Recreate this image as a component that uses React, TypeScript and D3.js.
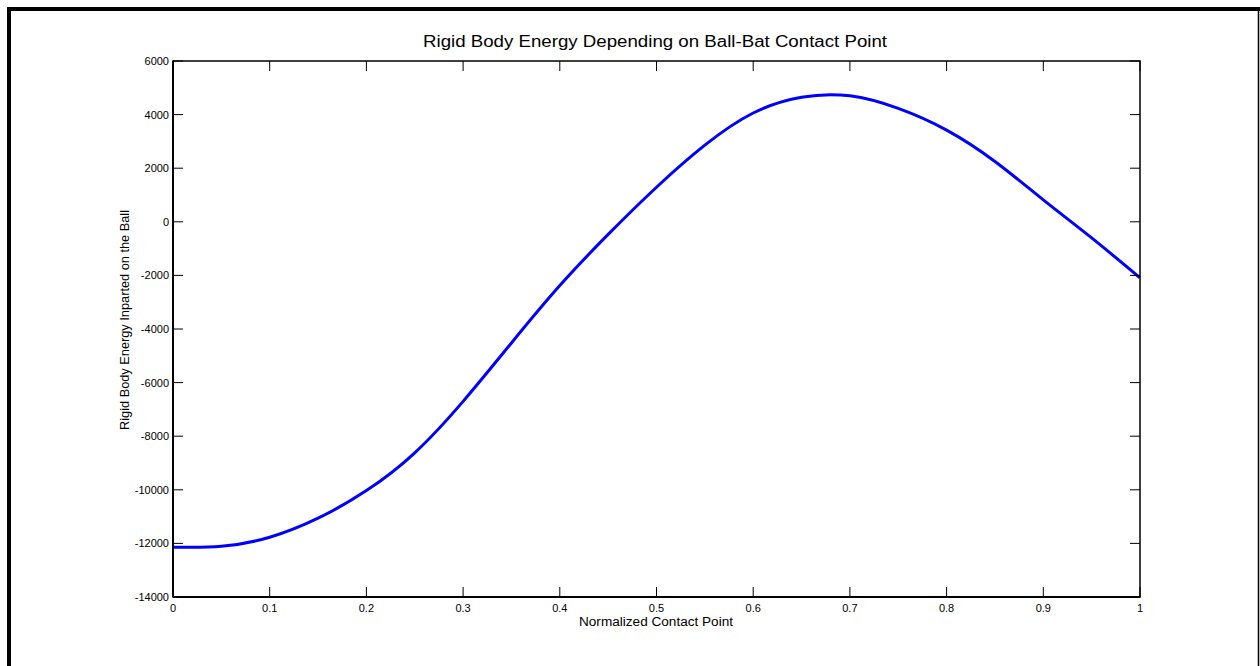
import React from "react";
import * as d3 from "d3";

const contactPoints = [0, 0.05, 0.1, 0.15, 0.2, 0.25, 0.3, 0.35, 0.4, 0.45, 0.5, 0.55, 0.6, 0.65, 0.7, 0.75, 0.8, 0.85, 0.9, 0.95, 1.0];
const energyValues = [-12140, -12110, -11770, -11060, -10030, -8620, -6700, -4520, -2380, -470, 1290, 2860, 4060, 4650, 4700, 4230, 3420, 2250, 820, -600, -2090];
const xTicks = [0, 0.1, 0.2, 0.3, 0.4, 0.5, 0.6, 0.7, 0.8, 0.9, 1];
const yTicks = [-14000, -12000, -10000, -8000, -6000, -4000, -2000, 0, 2000, 4000, 6000];

const W = 1260, H = 666;
const L = 173, R = 1140, T = 61, B = 597;
const FONT = "Arial, 'Liberation Sans', Helvetica, sans-serif";

export default function App() {
  const x = d3.scaleLinear().domain([0, 1]).range([L, R]);
  const y = d3.scaleLinear().domain([-14000, 6000]).range([B, T]);
  const pts = contactPoints.map((c, i) => [c, energyValues[i]] as [number, number]);
  const line = d3.line<[number, number]>().x(d => x(d[0])).y(d => y(d[1])).curve(d3.curveNatural);
  const tl = 10;
  return (
    <svg width={W} height={H} style={{ position: "absolute", left: 0, top: 0, background: "#fff" }} fontFamily={FONT}>
      <rect x={0} y={0} width={W} height={H} fill="#fff" />
      {/* outer frame */}
      <line x1={7} y1={9} x2={W} y2={9} stroke="#000" strokeWidth={4} />
      <line x1={9} y1={7} x2={9} y2={H} stroke="#000" strokeWidth={4} />
      <line x1={1258.5} y1={9} x2={1258.5} y2={H} stroke="#000" strokeWidth={1.5} />
      {/* title */}
      <text x={655} y={47} textAnchor="middle" fontSize={16} textLength={464} lengthAdjust="spacingAndGlyphs" fill="#000">Rigid Body Energy Depending on Ball-Bat Contact Point</text>
      {/* curve */}
      <path d={line(pts) || ""} fill="none" stroke="#0000ff" strokeWidth={3} />
      {/* ticks */}
      {xTicks.map(t => (
        <g key={"x" + t}>
          <line x1={x(t)} x2={x(t)} y1={B} y2={B - tl} stroke="#000" strokeWidth={1} />
          <line x1={x(t)} x2={x(t)} y1={T} y2={T + tl} stroke="#000" strokeWidth={1} />
          <text x={x(t)} y={612} textAnchor="middle" fontSize={11} fill="#000">{String(t)}</text>
        </g>
      ))}
      {yTicks.map(t => (
        <g key={"y" + t}>
          <line x1={L} x2={L + tl} y1={y(t)} y2={y(t)} stroke="#000" strokeWidth={1} />
          <line x1={R} x2={R - tl} y1={y(t)} y2={y(t)} stroke="#000" strokeWidth={1} />
          <text x={169} y={y(t) + 4} textAnchor="end" fontSize={11} fill="#000">{String(t)}</text>
        </g>
      ))}
      {/* axes box */}
      <rect x={L} y={T} width={R - L} height={B - T} fill="none" stroke="#000" strokeWidth={1.5} />
      <line x1={L} y1={T} x2={L} y2={B} stroke="#000" strokeWidth={2} />
      <line x1={L} y1={B} x2={R} y2={B} stroke="#000" strokeWidth={2} />
      {/* axis labels */}
      <text x={656} y={626} textAnchor="middle" fontSize={12} textLength={154} lengthAdjust="spacingAndGlyphs" fill="#000">Normalized Contact Point</text>
      <text transform={`translate(129, 320) rotate(-90)`} textAnchor="middle" fontSize={12} textLength={220} lengthAdjust="spacingAndGlyphs" fill="#000">Rigid Body Energy Inparted on the Ball</text>
    </svg>
  );
}
